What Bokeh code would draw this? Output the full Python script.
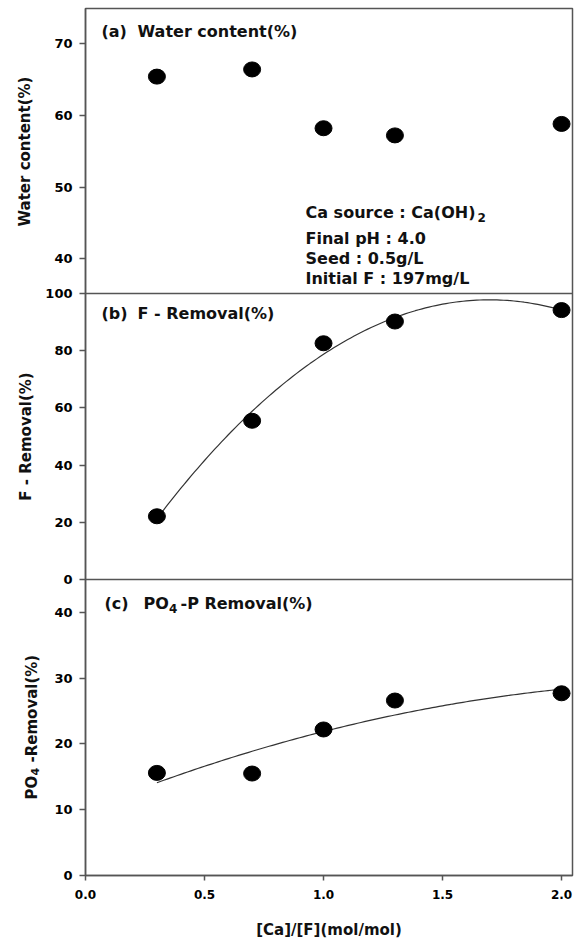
import numpy as np
from bokeh.plotting import figure
from bokeh.layouts import row
from bokeh.models import Range1d, FixedTicker, Label, Span, PrintfTickFormatter
from bokeh.embed import file_html
from bokeh.resources import INLINE

# ---------------- data ----------------
ca_f_ratio = [0.3, 0.7, 1.0, 1.3, 2.0]
water_content = [65.4, 66.4, 58.2, 57.2, 58.8]
f_removal = [22.1, 55.5, 82.6, 90.2, 94.2]
po4_removal = [15.6, 15.5, 22.2, 26.6, 27.7]

x_tick_values = [0.0, 0.5, 1.0, 1.5, 2.0]
water_ticks = [40, 50, 60, 70]
f_ticks = [0, 20, 40, 60, 80, 100]
po4_ticks = [0, 10, 20, 30, 40]

water_limits = (35.15, 74.9)
f_limits = (0.0, 100.0)
po4_limits = (0.0, 45.0)
x_limits = (0.0, 2.046)

panel_tags = ["(a)", "(b)", "(c)"]
x_title = "[Ca]/[F](mol/mol)"
conditions = ["Final pH : 4.0", "Seed : 0.5g/L", "Initial F : 197mg/L"]

# ---------------- layout ----------------
W, H = 576, 941
L = 42                      # width of the strip holding the rotated y titles
B_LEFT, B_RIGHT, B_TOP, B_BOTTOM = 85, 4, 8, 66
frame_top, frame_bottom = B_TOP, H - B_BOTTOM
panel_px = {"a": (8, 293), "b": (293, 579), "c": (579, 875)}
limits = {"a": water_limits, "b": f_limits, "c": po4_limits}

FONT = "DejaVu Sans"
EDGE = "#555555"
TXT = "#111111"


def full_range(name):
    t, b = panel_px[name]
    lo, hi = limits[name]
    s = (hi - lo) / (b - t)
    return Range1d(start=lo - (frame_bottom - b) * s, end=hi + (t - frame_top) * s)


ranges = {k: full_range(k) for k in "abc"}
P = full_range("b")


def to_primary(name, v):
    R = ranges[name]
    frac = (v - R.start) / (R.end - R.start)
    return P.start + frac * (P.end - P.start)


p = figure(width=W - L, height=H, x_range=Range1d(*x_limits), y_range=P,
           output_backend="svg", toolbar_location=None,
           min_border_left=B_LEFT - L, min_border_right=B_RIGHT,
           min_border_top=B_TOP, min_border_bottom=B_BOTTOM)
p.extra_y_ranges = {"a": ranges["a"], "c": ranges["c"]}
p.grid.visible = False
p.outline_line_color = EDGE
p.outline_line_width = 1.5
p.background_fill_color = "white"
p.border_fill_color = "white"

tick_pos, overrides = [], {}
for name, ticks in (("a", water_ticks), ("b", f_ticks), ("c", po4_ticks)):
    for t in ticks:
        pos = float(to_primary(name, t))
        tick_pos.append(pos)
        overrides[pos] = str(t)
p.yaxis.ticker = FixedTicker(ticks=tick_pos, minor_ticks=[])
p.yaxis.major_label_overrides = overrides
p.yaxis.major_tick_out = 6
p.yaxis.major_tick_in = 0
p.yaxis.major_label_standoff = 7
p.yaxis.major_label_text_font_size = "13px"

p.xaxis.ticker = FixedTicker(ticks=x_tick_values, minor_ticks=[])
p.xaxis.formatter = PrintfTickFormatter(format="%.1f")
p.xaxis.major_tick_out = 5
p.xaxis.major_tick_in = 0
p.xaxis.major_label_standoff = 9
p.xaxis.major_label_text_font_size = "12px"
p.xaxis.axis_label = x_title
p.xaxis.axis_label_standoff = 19
p.xaxis.axis_label_text_font_size = "15px"
p.xaxis.axis_label_text_font_style = "bold"
p.xaxis.axis_label_text_font = FONT
p.xaxis.axis_label_text_color = TXT

for ax in (p.xaxis[0], p.yaxis[0]):
    ax.axis_line_color = EDGE
    ax.axis_line_width = 1.5
    ax.major_tick_line_color = EDGE
    ax.major_tick_line_width = 1.5
    ax.minor_tick_line_color = None
    ax.major_label_text_font = FONT
    ax.major_label_text_font_style = "bold"
    ax.major_label_text_color = "black"

for v in (f_limits[1], f_limits[0]):
    p.add_layout(Span(location=to_primary("b", v), dimension="width",
                      line_color=EDGE, line_width=1.5))

xf = np.linspace(min(ca_f_ratio), max(ca_f_ratio), 120)
cf_b = np.polyfit(ca_f_ratio, f_removal, 2)
p.line(xf, np.polyval(cf_b, xf), line_color="#333333", line_width=1.2)
cf_c = np.polyfit(ca_f_ratio, po4_removal, 2)
p.line(xf, np.polyval(cf_c, xf), line_color="#333333", line_width=1.2, y_range_name="c")

for ys, rn in ((water_content, "a"), (f_removal, "default"), (po4_removal, "c")):
    p.ellipse(x=ca_f_ratio, y=ys, width=17, height=15, width_units="screen",
              height_units="screen", fill_color="black", line_color="black",
              y_range_name=rn)


def text(fig, txt, px, py, size, angle=0.0, align="left"):
    fig.add_layout(Label(x=px, y=py, x_units="canvas", y_units="canvas", text=txt,
                         angle=angle, text_font=FONT, text_font_style="bold",
                         text_font_size=size, text_baseline="middle", text_align=align,
                         text_color=TXT))


def ptext(txt, px, py, size):
    # px given in page coordinates; main figure starts at x = L
    text(p, txt, px - L, py, size)


for tag, px, py in zip(panel_tags, (101, 101, 104), (31, 313, 603)):
    ptext(tag, px, py, "16px")
ptext("Water content(%)", 137, 31, "16px")
ptext("F - Removal(%)", 137, 313, "16px")
ptext("PO", 143, 603, "16px")
ptext("4", 168.5, 608, "12px")
ptext("-P Removal(%)", 180, 603, "16px")

ptext("Ca source : Ca(OH)", 305, 212, "16px")
ptext("2", 477, 217, "12px")
for txt, py in zip(conditions, (238, 257.5, 278)):
    ptext(txt, 305, py, "16px")

# strip with the rotated y titles
strip = figure(width=L, height=H, x_range=Range1d(0, 1), y_range=Range1d(0, 1),
               output_backend="svg", toolbar_location=None,
               x_axis_location=None, y_axis_location=None, min_border=0)
strip.grid.visible = False
strip.outline_line_color = None
strip.background_fill_color = "white"
strip.border_fill_color = "white"

up = np.pi / 2
text(strip, "Water content(%)", 24, 151, "15px", angle=up, align="center")
text(strip, "F - Removal(%)", 25.5, 436, "15px", angle=up, align="center")
text(strip, "PO", 31, 799, "15px", angle=up)
text(strip, "4", 34.5, 775, "11px", angle=up)
text(strip, "-Removal(%)", 31, 762, "15px", angle=up)

layout = row(strip, p)
open("out.html", "w").write(file_html(layout, INLINE))
